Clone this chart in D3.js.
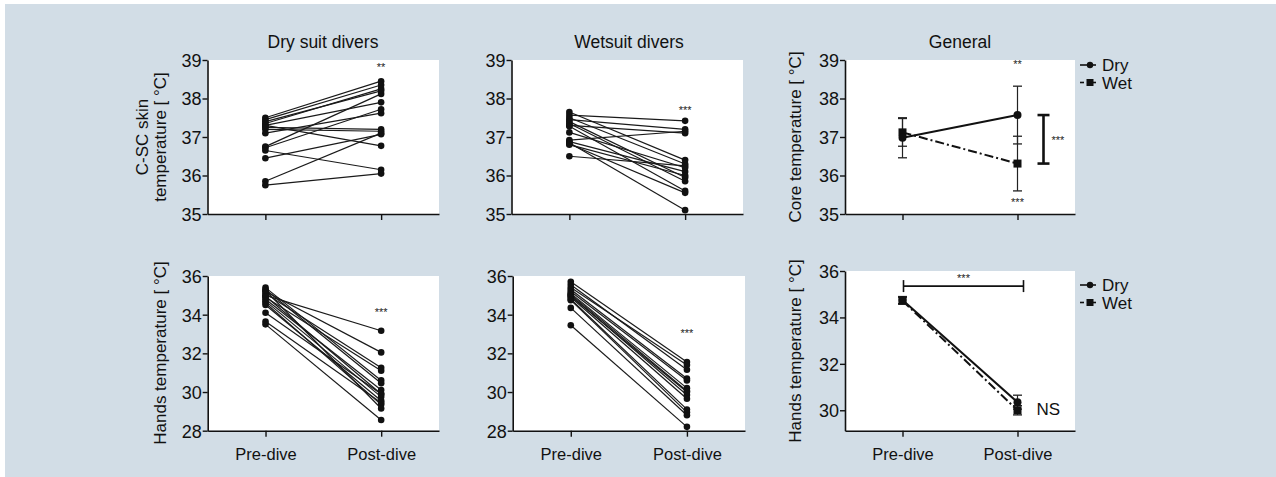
<!DOCTYPE html>
<html><head><meta charset="utf-8">
<script src="https://cdn.jsdelivr.net/npm/d3@7"></script>
<style>
html,body{margin:0;padding:0;background:#fff;}
svg text{font-family:"Liberation Sans",Arial,sans-serif;fill:#111;}
</style></head>
<body><svg id="c" width="1276" height="477"></svg>
<script>
// ---------- DATA ----------
const timepoints = ["Pre-dive", "Post-dive"];
const panelTitles = ["Dry suit divers", "Wetsuit divers", "General"];
const skinTicks = [35, 36, 37, 38, 39];
const handTicks = [28, 30, 32, 34, 36];
const handGenTicks = [30, 32, 34, 36];

// Individual C-SC skin temperature, dry suit divers [pre, post]
const drySkinPre  = [37.50, 37.45, 37.35, 37.30, 37.25, 37.20, 37.10, 37.30, 36.75, 36.72, 36.65, 36.45, 35.85, 35.75, 37.40];
const drySkinPost = [38.45, 38.35, 38.25, 37.90, 37.20, 37.15, 37.62, 36.77, 38.12, 37.72, 36.15, 37.07, 37.10, 36.05, 38.20];
// Individual C-SC skin temperature, wetsuit divers
const wetSkinPre  = [37.65, 37.57, 37.50, 37.45, 37.40, 37.35, 37.30, 37.28, 37.12, 36.92, 36.88, 36.85, 36.82, 36.80, 36.50];
const wetSkinPost = [36.40, 37.42, 36.30, 37.20, 35.95, 35.85, 37.10, 35.60, 36.20, 37.15, 36.10, 35.10, 35.55, 36.00, 36.25];
// Individual hands temperature, dry suit divers
const dryHandPre  = [35.00, 35.20, 35.10, 34.90, 35.40, 35.30, 34.80, 34.95, 34.70, 34.50, 34.60, 35.25, 34.10, 33.65, 33.50];
const dryHandPost = [33.17, 32.05, 31.25, 31.10, 30.60, 30.45, 30.10, 29.90, 29.75, 29.55, 29.35, 29.15, 29.90, 29.45, 28.55];
// Individual hands temperature, wetsuit divers
const wetHandPre  = [35.70, 35.55, 35.40, 35.30, 35.20, 35.10, 35.05, 35.00, 34.95, 34.90, 34.80, 34.75, 34.35, 33.45];
const wetHandPost = [31.55, 31.15, 31.40, 30.70, 30.60, 30.20, 30.05, 29.85, 30.00, 29.65, 29.10, 28.95, 28.80, 28.20];

// Group means and SD (General panels)
const coreDryMean = [36.98, 37.57];
const coreDrySD   = [0.52, 0.75];
const coreWetMean = [37.12, 36.31];
const coreWetSD   = [0.36, 0.71];
const handDryMean = [34.75, 30.35];
const handDrySD   = [0.15, 0.30];
const handWetMean = [34.72, 30.00];
const handWetSD   = [0.15, 0.20];
const seriesNames = ["Dry", "Wet"];

// ---------- DRAW ----------
const svg = d3.select("#c");
svg.append("rect").attr("x", 5).attr("y", 4).attr("width", 1271).attr("height", 473).attr("fill", "#d2dde6");

function panel(opts) {
  const g = svg.append("g");
  const x = d3.scaleLinear().domain([0.5, 2.5]).range([opts.x0, opts.x1]);
  const y = d3.scaleLinear().domain(opts.ydom).range([opts.y1, opts.y0]);
  g.append("rect").attr("x", opts.x0).attr("y", y(opts.ydom[1])).attr("width", opts.x1 - opts.x0)
    .attr("height", opts.y1 - y(opts.ydom[1])).attr("fill", "#fff");
  const ya = g.append("g").attr("transform", `translate(${opts.x0},0)`)
    .call(d3.axisLeft(y).tickValues(opts.ticks).tickFormat(d3.format("d")).tickSize(5).tickPadding(1).tickSizeOuter(0));
  ya.selectAll("text").style("font-size", "18px").attr("dy", "0.36em");
  const xa = g.append("g").attr("transform", `translate(0,${opts.y1})`)
    .call(d3.axisBottom(x).tickValues([1, 2]).tickSize(6).tickSizeOuter(0)
      .tickFormat(d => opts.showX ? timepoints[d - 1] : ""));
  xa.selectAll("text").style("font-size", "16.5px").attr("dy", "1.25em");
  [ya, xa].forEach(a => { a.select(".domain").attr("stroke", "#111").attr("stroke-width", 1.6);
    a.selectAll(".tick line").attr("stroke", "#111").attr("stroke-width", 1.4); });
  return { g, x, y };
}

function spaghetti(p, pre, post) {
  const data = pre.map((v, i) => [v, post[i]]);
  p.g.append("g").selectAll("line").data(data).join("line")
    .attr("x1", p.x(1)).attr("x2", p.x(2)).attr("y1", d => p.y(d[0])).attr("y2", d => p.y(d[1]))
    .attr("stroke", "#1a1a1a").attr("stroke-width", 1.2);
  const pts = data.flatMap(d => [[1, d[0]], [2, d[1]]]);
  p.g.append("g").selectAll("circle").data(pts).join("circle")
    .attr("cx", d => p.x(d[0])).attr("cy", d => p.y(d[1])).attr("r", 3.3).attr("fill", "#111");
}

function stars(p, xv, yv, txt, size) {
  p.g.append("text").attr("x", p.x(xv)).attr("y", yv).attr("text-anchor", "middle")
    .style("font-size", (size || 11) + "px").style("fill", "#222").text(txt);
}

function ylabel(lines, cx, cy) {
  const t = svg.append("text").attr("transform", `translate(${cx},${cy}) rotate(-90)`)
    .attr("text-anchor", "middle").style("font-size", "17px");
  lines.forEach((l, i) => t.append("tspan").attr("x", 0).attr("dy", i === 0 ? `${0.35 - (lines.length - 1) * 0.55}em` : "1.1em").text(l));
}

function title(txt, cx) {
  svg.append("text").attr("x", cx).attr("y", 47.5).attr("text-anchor", "middle").style("font-size", "17.5px").text(txt);
}

function means(p, mD, sD, mW, sW) {
  const line = d3.line().x((d, i) => p.x(i + 1)).y(d => p.y(d));
  p.g.append("path").attr("d", line(mW)).attr("fill", "none").attr("stroke", "#111").attr("stroke-width", 2)
    .attr("stroke-dasharray", "9,3,2,3");
  p.g.append("path").attr("d", line(mD)).attr("fill", "none").attr("stroke", "#111").attr("stroke-width", 2);
  const eb = (m, s) => m.forEach((v, i) => {
    const cx = p.x(i + 1), a = p.y(v + s[i]), b = p.y(v - s[i]);
    p.g.append("line").attr("x1", cx).attr("x2", cx).attr("y1", a).attr("y2", b).attr("stroke", "#222").attr("stroke-width", 1.2);
    [a, b].forEach(yy => p.g.append("line").attr("x1", cx - 4.5).attr("x2", cx + 4.5).attr("y1", yy).attr("y2", yy).attr("stroke", "#222").attr("stroke-width", 1.3));
  });
  eb(mD, sD); eb(mW, sW);
  mW.forEach((v, i) => p.g.append("rect").attr("x", p.x(i + 1) - 4).attr("y", p.y(v) - 4).attr("width", 8).attr("height", 8).attr("fill", "#111"));
  mD.forEach((v, i) => p.g.append("circle").attr("cx", p.x(i + 1)).attr("cy", p.y(v)).attr("r", 4).attr("fill", "#111"));
}

function legend(x, y) {
  const g = svg.append("g");
  g.append("line").attr("x1", x).attr("x2", x + 16).attr("y1", y).attr("y2", y).attr("stroke", "#111").attr("stroke-width", 1.6);
  g.append("circle").attr("cx", x + 10).attr("cy", y).attr("r", 3.2).attr("fill", "#111");
  g.append("text").attr("x", x + 22).attr("y", y).attr("dy", "0.36em").style("font-size", "17px").text(seriesNames[0]);
  const y2 = y + 17.5;
  g.append("line").attr("x1", x).attr("x2", x + 4).attr("y1", y2).attr("y2", y2).attr("stroke", "#111").attr("stroke-width", 1.6);
  g.append("line").attr("x1", x + 12).attr("x2", x + 16).attr("y1", y2).attr("y2", y2).attr("stroke", "#111").attr("stroke-width", 1.6);
  g.append("rect").attr("x", x + 6.5).attr("y", y2 - 3.5).attr("width", 7).attr("height", 7).attr("fill", "#111");
  g.append("text").attr("x", x + 22).attr("y", y2).attr("dy", "0.36em").style("font-size", "17px").text(seriesNames[1]);
}

// Top row
title(panelTitles[0], 323);
title(panelTitles[1], 629);
title(panelTitles[2], 960);

const p1 = panel({ x0: 207.5, x1: 439, y0: 60, y1: 214, ydom: [35, 39], ticks: skinTicks, showX: false });
spaghetti(p1, drySkinPre, drySkinPost);
stars(p1, 2, 71, "**");

const p2 = panel({ x0: 511.5, x1: 743, y0: 60, y1: 214, ydom: [35, 39], ticks: skinTicks, showX: false });
spaghetti(p2, wetSkinPre, wetSkinPost);
stars(p2, 2, 114, "***");

const p3 = panel({ x0: 845, x1: 1075, y0: 60, y1: 214, ydom: [35, 39], ticks: skinTicks, showX: false });
means(p3, coreDryMean, coreDrySD, coreWetMean, coreWetSD);
stars(p3, 2, 68, "**");
stars(p3, 2, 206, "***");
{
  const bx = p3.x(2) + 26, ya = p3.y(coreDryMean[1]), yb = p3.y(coreWetMean[1]);
  p3.g.append("line").attr("x1", bx).attr("x2", bx).attr("y1", ya).attr("y2", yb).attr("stroke", "#111").attr("stroke-width", 2.6);
  [ya, yb].forEach(yy => p3.g.append("line").attr("x1", bx - 6).attr("x2", bx + 6).attr("y1", yy).attr("y2", yy).attr("stroke", "#111").attr("stroke-width", 2.6));
  p3.g.append("text").attr("x", bx + 8).attr("y", (ya + yb) / 2 + 5).style("font-size", "11px").style("fill", "#222").text("***");
}
legend(1080, 65);

// Bottom row
const p4 = panel({ x0: 207.7, x1: 439, y0: 276, y1: 430.7, ydom: [28, 36], ticks: handTicks, showX: true });
spaghetti(p4, dryHandPre, dryHandPost);
stars(p4, 2, 316, "***");

const p5 = panel({ x0: 512.7, x1: 745, y0: 276, y1: 430.7, ydom: [28, 36], ticks: handTicks, showX: true });
spaghetti(p5, wetHandPre, wetHandPost);
stars(p5, 2, 337, "***");

const p6 = panel({ x0: 845, x1: 1075, y0: 271, y1: 430.7, ydom: [29.12, 36], ticks: handGenTicks, showX: true });
means(p6, handDryMean, handDrySD, handWetMean, handWetSD);
{
  const yb = p6.y(35.35), xa = p6.x(1) + 1, xb = p6.x(2) + 6;
  p6.g.append("line").attr("x1", xa).attr("x2", xb).attr("y1", yb).attr("y2", yb).attr("stroke", "#111").attr("stroke-width", 1.6);
  [xa, xb].forEach(xx => p6.g.append("line").attr("x1", xx).attr("x2", xx).attr("y1", yb - 6).attr("y2", yb + 6).attr("stroke", "#111").attr("stroke-width", 1.6));
  p6.g.append("text").attr("x", (xa + xb) / 2).attr("y", yb - 4).attr("text-anchor", "middle").style("font-size", "11px").style("fill", "#222").text("***");
  p6.g.append("text").attr("x", p6.x(2) + 19).attr("y", p6.y(30.05)).attr("dy", "0.36em").style("font-size", "17px").text("NS");
}
legend(1080, 285);

// Y-axis labels
ylabel(["C-SC skin", "temperature [ °C]"], 151, 137);
ylabel(["Hands temperature [ °C]"], 160, 353);
ylabel(["Core temperature [ °C]"], 795, 137);
ylabel(["Hands temperature [ °C]"], 795, 351);
</script></body></html>
